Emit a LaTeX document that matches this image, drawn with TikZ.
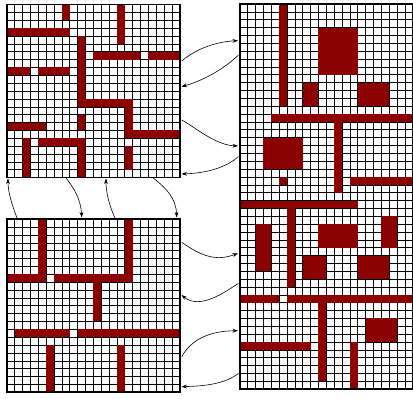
\documentclass[tikz,border=0pt]{standalone}
\usetikzlibrary{arrows.meta}
\definecolor{wallred}{RGB}{139,0,0}
\tikzset{
  gridline/.style={black, line width=0.55pt},
  frameline/.style={black, line width=1.7pt},
  wallfill/.style={fill=wallred},
  link/.style={black, line width=0.6pt, -{Stealth[length=5.5pt,width=3.8pt]}},
}
\newcommand\redcells[4]{\fill[wallfill] (#1,#2) rectangle ({#3+1},{#4+1});}
\newcommand\cellgrid[2]{%
  \foreach \i in {0,...,#1} {\draw[gridline] (\i,0) -- (\i,#2);}
  \foreach \j in {0,...,#2} {\draw[gridline] (0,\j) -- (#1,\j);}
}
\begin{document}
\begin{tikzpicture}[x=1pt,y=-1pt]
\useasboundingbox (0,0) rectangle (413,399);
% ---------- top-left map ----------
\begin{scope}[shift={(6.8pt,-4.6pt)}, x=7.86pt, y=-7.86pt]
  \cellgrid{22}{22}
  \redcells{7}{0}{7}{1}
  \redcells{14}{0}{14}{4}
  \redcells{0}{3}{7}{3}
  \redcells{9}{4}{9}{12}
  \redcells{9}{12}{15}{12}
  \redcells{15}{12}{15}{16}
  \redcells{15}{16}{21}{16}
  \redcells{11}{6}{16}{6}
  \redcells{18}{6}{21}{6}
  \redcells{0}{8}{2}{8}
  \redcells{4}{8}{7}{8}
  \redcells{9}{14}{9}{15}
  \redcells{0}{15}{4}{15}
  \redcells{4}{17}{9}{17}
  \redcells{2}{17}{2}{21}
  \redcells{9}{17}{9}{21}
  \redcells{15}{18}{15}{20}
  \draw[frameline] (0,0) rectangle (22,22);
\end{scope}
% ---------- bottom-left map ----------
\begin{scope}[shift={(6.8pt,-219.3pt)}, x=7.86pt, y=-7.86pt]
  \cellgrid{22}{22}
  \redcells{4}{0}{4}{7}
  \redcells{0}{7}{4}{7}
  \redcells{15}{0}{15}{7}
  \redcells{6}{7}{15}{7}
  \redcells{11}{7}{11}{12}
  \redcells{1}{14}{7}{14}
  \redcells{9}{14}{21}{14}
  \redcells{5}{16}{5}{21}
  \redcells{14}{16}{14}{21}
  \draw[frameline] (0,0) rectangle (22,22);
\end{scope}
% ---------- right tall map ----------
\begin{scope}[shift={(239.8pt,-4pt)}, x=7.86pt, y=-7.86pt]
  \cellgrid{22}{49}
  \redcells{5}{0}{5}{12}
  \redcells{10}{3}{14}{8}
  \redcells{8}{10}{9}{12}
  \redcells{15}{10}{18}{12}
  \redcells{4}{14}{21}{14}
  \redcells{12}{15}{12}{23}
  \redcells{3}{17}{7}{20}
  \redcells{5}{22}{5}{22}
  \redcells{14}{22}{21}{22}
  \redcells{0}{25}{14}{25}
  \redcells{6}{26}{6}{35}
  \redcells{2}{28}{3}{33}
  \redcells{10}{28}{14}{30}
  \redcells{18}{27}{19}{30}
  \redcells{8}{32}{10}{34}
  \redcells{15}{32}{18}{34}
  \redcells{0}{37}{4}{37}
  \redcells{6}{37}{21}{37}
  \redcells{10}{38}{10}{47}
  \redcells{16}{40}{19}{42}
  \redcells{0}{43}{8}{43}
  \redcells{14}{43}{14}{48}
  \draw[frameline] (0,0) rectangle (22,49);
\end{scope}
% ---------- connector end points ----------
\coordinate (a1s) at (181.7,61);    \coordinate (a1e) at (238,40.7);
\coordinate (a2s) at (238.5,55);    \coordinate (a2e) at (181.5,86.7);
\coordinate (a3s) at (181.7,120);   \coordinate (a3e) at (238,146);
\coordinate (a4s) at (238.5,156.5); \coordinate (a4e) at (181.5,174);
\coordinate (a5s) at (181.7,242.3); \coordinate (a5e) at (238,253.3);
\coordinate (a6s) at (238.5,283.3); \coordinate (a6e) at (181.5,295);
\coordinate (a7s) at (181.7,356.7); \coordinate (a7e) at (238,330.7);
\coordinate (a8s) at (238.5,373.3); \coordinate (a8e) at (181.5,386.7);
\coordinate (v1s) at (17,218);      \coordinate (v1e) at (8,178.5);
\coordinate (v2s) at (66,178);      \coordinate (v2e) at (81.7,217.5);
\coordinate (v3s) at (115,218);     \coordinate (v3e) at (106,178.5);
\coordinate (v4s) at (153.3,178);   \coordinate (v4e) at (176.7,217.5);
% ---------- connectors ----------
\draw[link] (a1s) .. controls (197,48) and (218,41.5) .. (a1e);
\draw[link] (a2s) .. controls (225,68) and (205,80) .. (a2e);
\draw[link] (a3s) .. controls (195,127) and (215,145) .. (a3e);
\draw[link] (a4s) .. controls (228,166) and (210,173) .. (a4e);
\draw[link] (a5s) .. controls (200,255) and (215,262) .. (a5e);
\draw[link] (a6s) .. controls (225,292) and (200,310) .. (a6e);
\draw[link] (a7s) .. controls (192,338) and (212,331) .. (a7e);
\draw[link] (a8s) .. controls (225,384) and (205,386) .. (a8e);
\draw[link] (v1s) .. controls (12,205) and (8,192) .. (v1e);
\draw[link] (v2s) .. controls (74,188) and (81,200) .. (v2e);
\draw[link] (v3s) .. controls (109,205) and (106,192) .. (v3e);
\draw[link] (v4s) .. controls (166,188) and (176,198) .. (v4e);
\end{tikzpicture}
\end{document}
